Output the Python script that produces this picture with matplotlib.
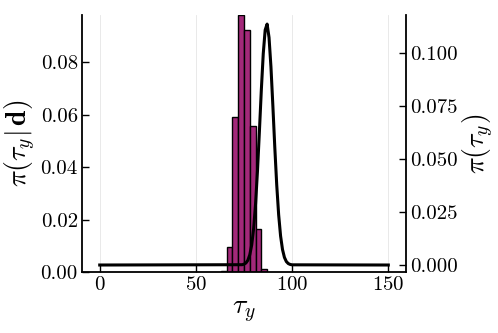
import matplotlib
matplotlib.use("Agg")
import matplotlib.pyplot as plt

plt.rcParams['font.family'] = 'serif'
plt.rcParams['font.serif'] = ['cmr10']
plt.rcParams['mathtext.fontset'] = 'cm'
plt.rcParams['axes.unicode_minus'] = False
plt.rcParams['axes.formatter.use_mathtext'] = True

# posterior histogram (density), bins of width 3
bin_edges = [63, 66, 69, 72, 75, 78, 81, 84, 87]
post_density = [0.0003, 0.0095, 0.059, 0.098, 0.0924, 0.0558, 0.0164, 0.0012]

# prior density curve
prior_x = [0, 74, 75, 76, 77, 78, 79, 80, 81, 82, 83, 84, 85, 86, 87,
           88, 89, 90, 91, 92, 93, 94, 95, 96, 97, 98, 99, 100, 150]
prior_y = [0.0, 0.00014, 0.00039, 0.00098, 0.00226, 0.00483, 0.00952, 0.01727,
           0.02887, 0.04451, 0.06322, 0.08276, 0.09986, 0.11104, 0.11380,
           0.10747, 0.09354, 0.07505, 0.05548, 0.03781, 0.02374, 0.01374,
           0.00733, 0.00360, 0.00163, 0.00068, 0.00026, 0.00009, 0.0]

x_ticks = [0, 50, 100, 150]
left_ticks = [0.00, 0.02, 0.04, 0.06, 0.08]
right_ticks = [0.000, 0.025, 0.050, 0.075, 0.100]

fig = plt.figure(figsize=(4.98, 3.33), dpi=100)
ax = fig.add_axes((0.1647, 0.1832, 0.6506, 0.7718))

widths = [b - a for a, b in zip(bin_edges[:-1], bin_edges[1:])]
ax.bar(bin_edges[:-1], post_density, width=widths, align='edge',
       color='#a3297a', edgecolor='black', linewidth=1.0, zorder=2)
ax.set_xlim(-9.2, 159.2)
ax.set_ylim(0, 0.098)
ax.set_xticks(x_ticks)
ax.set_yticks(left_ticks)
ax.set_yticklabels(['%.2f' % t for t in left_ticks])
ax.grid(axis='x', color='black', alpha=0.1, linewidth=0.6)
ax.set_axisbelow(True)
ax.spines['top'].set_visible(False)
ax.spines['right'].set_visible(False)
for s in ('left', 'bottom'):
    ax.spines[s].set_linewidth(1.3)
ax.tick_params(direction='in', length=5, width=1.0, labelsize=15, pad=3)
ax.set_xlabel(r'$\tau_y$', fontsize=20, labelpad=3)
ax.set_ylabel(r'$\pi(\tau_y|\,\mathbf{d})$', fontsize=20, labelpad=2)

ax2 = ax.twinx()
ax2.plot(prior_x, prior_y, color='black', linewidth=2.2, zorder=3)
ax2.set_ylim(-0.0033, 0.1181)
ax2.set_yticks(right_ticks)
ax2.set_yticklabels(['%.3f' % t for t in right_ticks])
ax2.spines['top'].set_visible(False)
ax2.spines['left'].set_visible(False)
ax2.spines['bottom'].set_visible(False)
ax2.spines['right'].set_linewidth(1.3)
ax2.tick_params(direction='in', length=5, width=1.0, labelsize=15, pad=3)
ax2.set_ylabel(r'$\pi(\tau_y)$', fontsize=20, labelpad=2)

fig.savefig('out.png', dpi=100)
